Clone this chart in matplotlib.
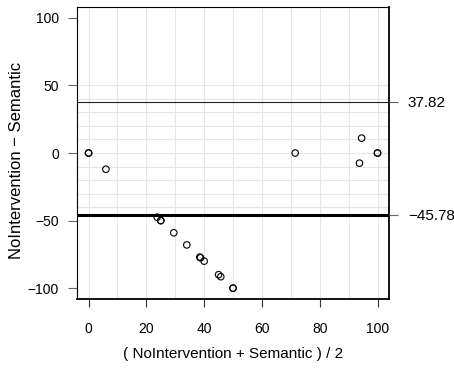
import numpy as np
import matplotlib
matplotlib.use("Agg")
import matplotlib.pyplot as plt

plt.rcParams['font.family'] = ['Liberation Sans', 'DejaVu Sans']
plt.rcParams['font.size'] = 10

# Bland-Altman points: mean of the two ratings vs their difference
means = [0, 0, 6, 71.5, 94.5, 93.75, 100, 100,
         23.75, 25, 25, 29.5, 34, 38.5, 38.75, 40, 45, 45.75, 50, 50]
diffs = [0, 0, -12, 0, 11, -7.5, 0, 0,
         -47.5, -50, -50, -59, -68, -77, -77.5, -80, -90, -91.5, -100, -100]

upper_loa = 37.82
lower_loa = -45.78

xticks = [0, 20, 40, 60, 80, 100]
yticks = [-100, -50, 0, 50, 100]
xgrid = np.arange(0, 101, 10)
ygrid = np.arange(-40, 51, 10)

fig = plt.figure(figsize=(4.54, 3.79), dpi=100)
ax = fig.add_axes([0.1696, 0.2111, 0.8570 - 0.1696, 0.9815 - 0.2111])

for gx in xgrid:
    ax.axvline(gx, color='#e6e6e6', lw=0.8, zorder=0)
for gy in ygrid:
    ax.axhline(gy, color='#e6e6e6', lw=0.8, zorder=0)

ax.scatter(means, diffs, s=22, facecolors='none', edgecolors='black',
           linewidths=0.8, zorder=3)

ax.axhline(upper_loa, color='#222222', lw=0.8, zorder=2)
ax.axhline(lower_loa, color='black', lw=2.2, zorder=2)

ax.set_xlim(-4, 104)
ax.set_ylim(-108, 108)
ax.set_xticks(xticks)
ax.set_yticks(yticks)
ax.set_yticklabels([str(v).replace('-', '\u2212') for v in yticks])
ax.tick_params(axis='y', length=6.5, color='#666666', width=0.8, pad=6.5)
ax.tick_params(axis='x', length=6, color='#333333', width=0.8, pad=10.5)

for side in ('top', 'left'):
    ax.spines[side].set_linewidth(0.8)
for side in ('right', 'bottom'):
    ax.spines[side].set_linewidth(1.3)

ax2 = ax.twinx()
ax2.set_ylim(ax.get_ylim())
ax2.set_yticks([upper_loa, lower_loa])
ax2.set_yticklabels(['%.2f' % upper_loa, '\u2212%.2f' % abs(lower_loa)],
                    fontsize=11)
ax2.tick_params(axis='y', length=6.5, color='#666666', width=0.8, pad=7)
for side in ax2.spines:
    ax2.spines[side].set_visible(False)

ax.set_xlabel('( NoIntervention + Semantic ) / 2', fontsize=11)
ax.set_ylabel('NoIntervention \u2212 Semantic', fontsize=12)
ax.xaxis.set_label_coords(0.5, -0.165)
ax.yaxis.set_label_coords(-0.17, 0.475)

fig.savefig('out.png', dpi=100)
